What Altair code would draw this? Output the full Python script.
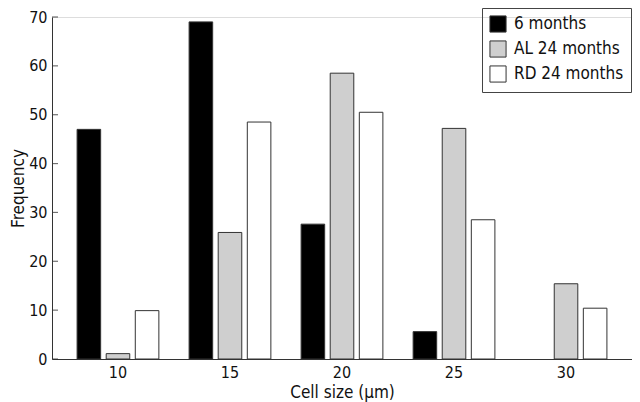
import altair as alt
import pandas as pd

sizes = [10, 15, 20, 25, 30]
series = ["6 months", "AL 24 months", "RD 24 months"]
six_months = [47, 69, 27.6, 5.6, 0]
al_24 = [1.1, 25.9, 58.5, 47.2, 15.4]
rd_24 = [9.9, 48.5, 50.5, 28.5, 10.4]
y_ticks = [0, 10, 20, 30, 40, 50, 60, 70]

rows = []
for name, vals in zip(series, [six_months, al_24, rd_24]):
    for s, v in zip(sizes, vals):
        rows.append({"size": s, "group": name, "freq": v})
df = pd.DataFrame(rows)
tick_df = pd.DataFrame({"t": y_ticks})

FONT = "DejaVu Sans Condensed, Liberation Sans Narrow, Liberation Sans, sans-serif"

base = alt.Chart(df).transform_filter(alt.datum.freq > 0)

bars = base.mark_bar(stroke="#333333", strokeWidth=1).encode(
    x=alt.X("size:O",
            scale=alt.Scale(paddingInner=0.27, paddingOuter=0.224),
            axis=alt.Axis(title="Cell size (µm)", labelAngle=0, ticks=False,
                          labelPadding=5, titlePadding=4, labelFontSize=16,
                          titleFontSize=17, titleFontWeight="normal",
                          domainColor="#333333", labelColor="#111111",
                          titleColor="#111111")),
    xOffset=alt.XOffset("group:N", sort=series,
                        scale=alt.Scale(domain=series, paddingInner=0.19, paddingOuter=0)),
    y=alt.Y("freq:Q",
            scale=alt.Scale(domain=[0, 70], nice=False),
            axis=alt.Axis(title="Frequency", values=y_ticks, ticks=False, grid=False,
                          labelPadding=5, labelFontSize=16, titleFontSize=17,
                          titleFontWeight="normal", titleX=-25,
                          domainColor="#333333", labelColor="#111111",
                          titleColor="#111111")),
    fill=alt.Fill("group:N", sort=series,
                  scale=alt.Scale(domain=series, range=["#000000", "#cfcfcf", "#ffffff"]),
                  legend=alt.Legend(title=None, orient="none", legendX=430, legendY=-9,
                                    strokeColor="#444444", padding=7,
                                    symbolType="square", symbolSize=260,
                                    symbolStrokeColor="#333333", symbolStrokeWidth=1,
                                    labelFontSize=17, labelOffset=7, rowPadding=3,
                                    labelColor="#111111")),
)

ticks = alt.Chart(tick_df).mark_tick(color="#333333", thickness=1.2, size=6,
                                      orient="horizontal").encode(
    x=alt.value(3), y=alt.Y("t:Q")
)

chart = alt.layer(bars, ticks).properties(
    width=580, height=342,
    autosize=alt.AutoSizeParams(type="none"),
    padding={"left": 44, "top": 9, "right": 0, "bottom": 43},
).configure_view(stroke=None).configure(font=FONT)

chart.save("out.html", embed_options={"renderer": "svg", "actions": False})
